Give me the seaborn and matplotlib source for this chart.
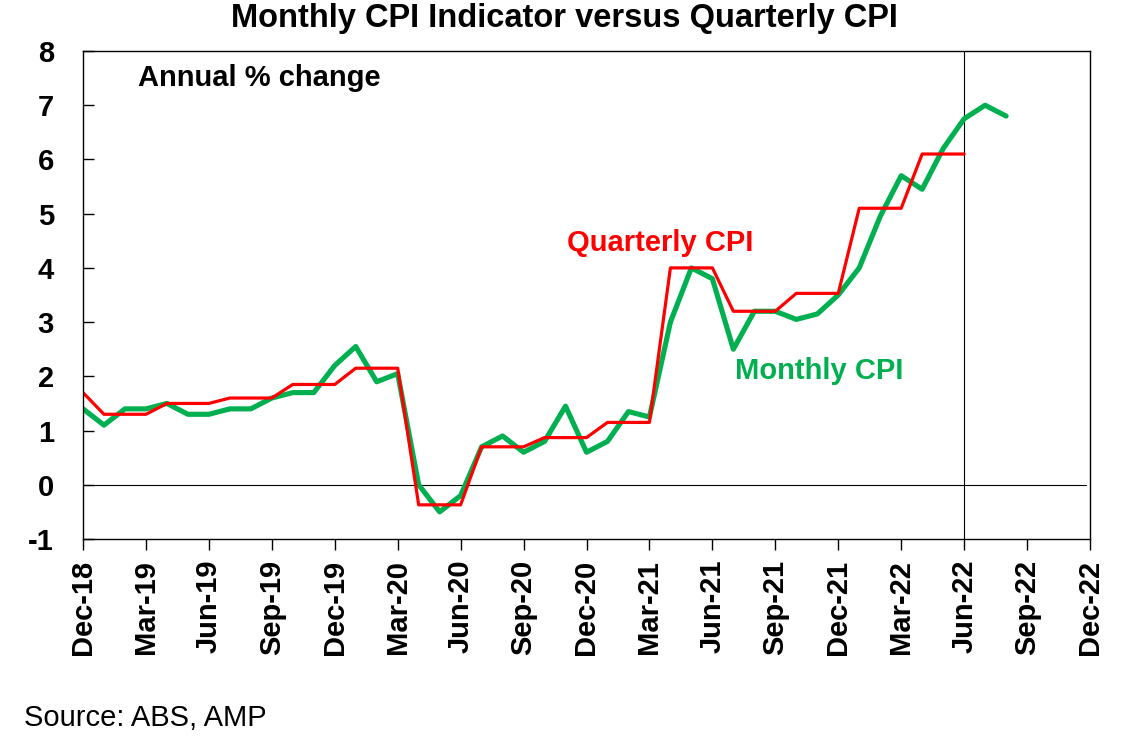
import numpy as np
import pandas as pd
import matplotlib
matplotlib.use('Agg')
import matplotlib.pyplot as plt
import seaborn as sns

# 月度 CPI 指标 (Dec-18 .. Aug-22)
monthly_cpi = [1.4,
               1.1, 1.4, 1.4, 1.5, 1.3, 1.3, 1.4, 1.4, 1.6, 1.7, 1.7, 2.2,
               2.55, 1.9, 2.05, 0.0, -0.5, -0.2, 0.7, 0.9, 0.6, 0.8, 1.45, 0.6,
               0.8, 1.35, 1.25, 3.0, 4.0, 3.8, 2.5, 3.2, 3.2, 3.05, 3.15, 3.5,
               4.0, 4.95, 5.7, 5.45, 6.2, 6.75, 7.0, 6.8]

# 季度 CPI, 按月展开 (Dec-18 .. Jun-22)
quarterly_cpi = [1.7,
                 1.3, 1.3, 1.3, 1.5, 1.5, 1.5, 1.6, 1.6, 1.6, 1.85, 1.85, 1.85,
                 2.15, 2.15, 2.15, -0.37, -0.37, -0.37, 0.7, 0.7, 0.7, 0.87, 0.87, 0.87,
                 1.15, 1.15, 1.15, 4.0, 4.0, 4.0, 3.2, 3.2, 3.2, 3.53, 3.53, 3.53,
                 5.1, 5.1, 5.1, 6.1, 6.1, 6.1]

tick_labels = ['Dec-18', 'Mar-19', 'Jun-19', 'Sep-19', 'Dec-19', 'Mar-20', 'Jun-20',
               'Sep-20', 'Dec-20', 'Mar-21', 'Jun-21', 'Sep-21', 'Dec-21', 'Mar-22',
               'Jun-22', 'Sep-22', 'Dec-22']
y_ticks = [-1, 0, 1, 2, 3, 4, 5, 6, 7, 8]

df_m = pd.DataFrame({'month': np.arange(len(monthly_cpi)), 'value': monthly_cpi})
df_q = pd.DataFrame({'month': np.arange(len(quarterly_cpi)), 'value': quarterly_cpi})

sns.set_style('ticks')
plt.rcParams['font.family'] = ['Liberation Sans', 'DejaVu Sans']
plt.rcParams['text.color'] = 'black'
plt.rcParams['xtick.color'] = 'black'
plt.rcParams['ytick.color'] = 'black'

fig = plt.figure(figsize=(11.25, 7.53), dpi=100)
ax = fig.add_axes([83 / 1125, 1 - 539 / 753, (1090 - 83) / 1125, (539 - 51) / 753])

green = '#00B050'
red = '#FF0000'

sns.lineplot(data=df_m, x='month', y='value', color=green, linewidth=3.7, ax=ax)
sns.lineplot(data=df_q, x='month', y='value', color=red, linewidth=2.3, ax=ax)

ax.axhline(0, color='black', linewidth=0.8, xmax=0.996, zorder=0)
ax.axvline(42, color='black', linewidth=0.8, zorder=0)

ax.set_xlim(0, 48)
ax.set_ylim(-1, 8)
ax.set_xticks(np.arange(0, 49, 3))
ax.set_xticklabels(tick_labels, rotation=90, fontweight='bold', fontsize=21)
ax.set_yticks(y_ticks)
ax.set_yticklabels([str(v) for v in y_ticks], fontweight='bold', fontsize=21)
ax.tick_params(axis='y', direction='in', length=8, width=1, pad=21)
ax.tick_params(axis='x', direction='out', length=8, width=1, pad=7)
ax.set_xlabel('')
ax.set_ylabel('')
for s in ax.spines.values():
    s.set_visible(True)
    s.set_linewidth(1.0)
    s.set_color('black')

ax.text(2.6, 7.5, 'Annual % change', fontsize=21, fontweight='bold', va='center', ha='left')
ax.text(27.5, 4.46, 'Quarterly CPI', fontsize=21, fontweight='bold', color=red,
        va='center', ha='center')
ax.text(35.1, 2.1, 'Monthly CPI', fontsize=21, fontweight='bold', color=green,
        va='center', ha='center')

fig.text(0.502, 1 - 19 / 753, 'Monthly CPI Indicator versus Quarterly CPI',
         fontsize=23.5, fontweight='bold', ha='center', va='center')
fig.text(24 / 1125, 1 - 718 / 753, 'Source: ABS, AMP', fontsize=21,
         ha='left', va='center')

fig.savefig('out.png', dpi=100)
